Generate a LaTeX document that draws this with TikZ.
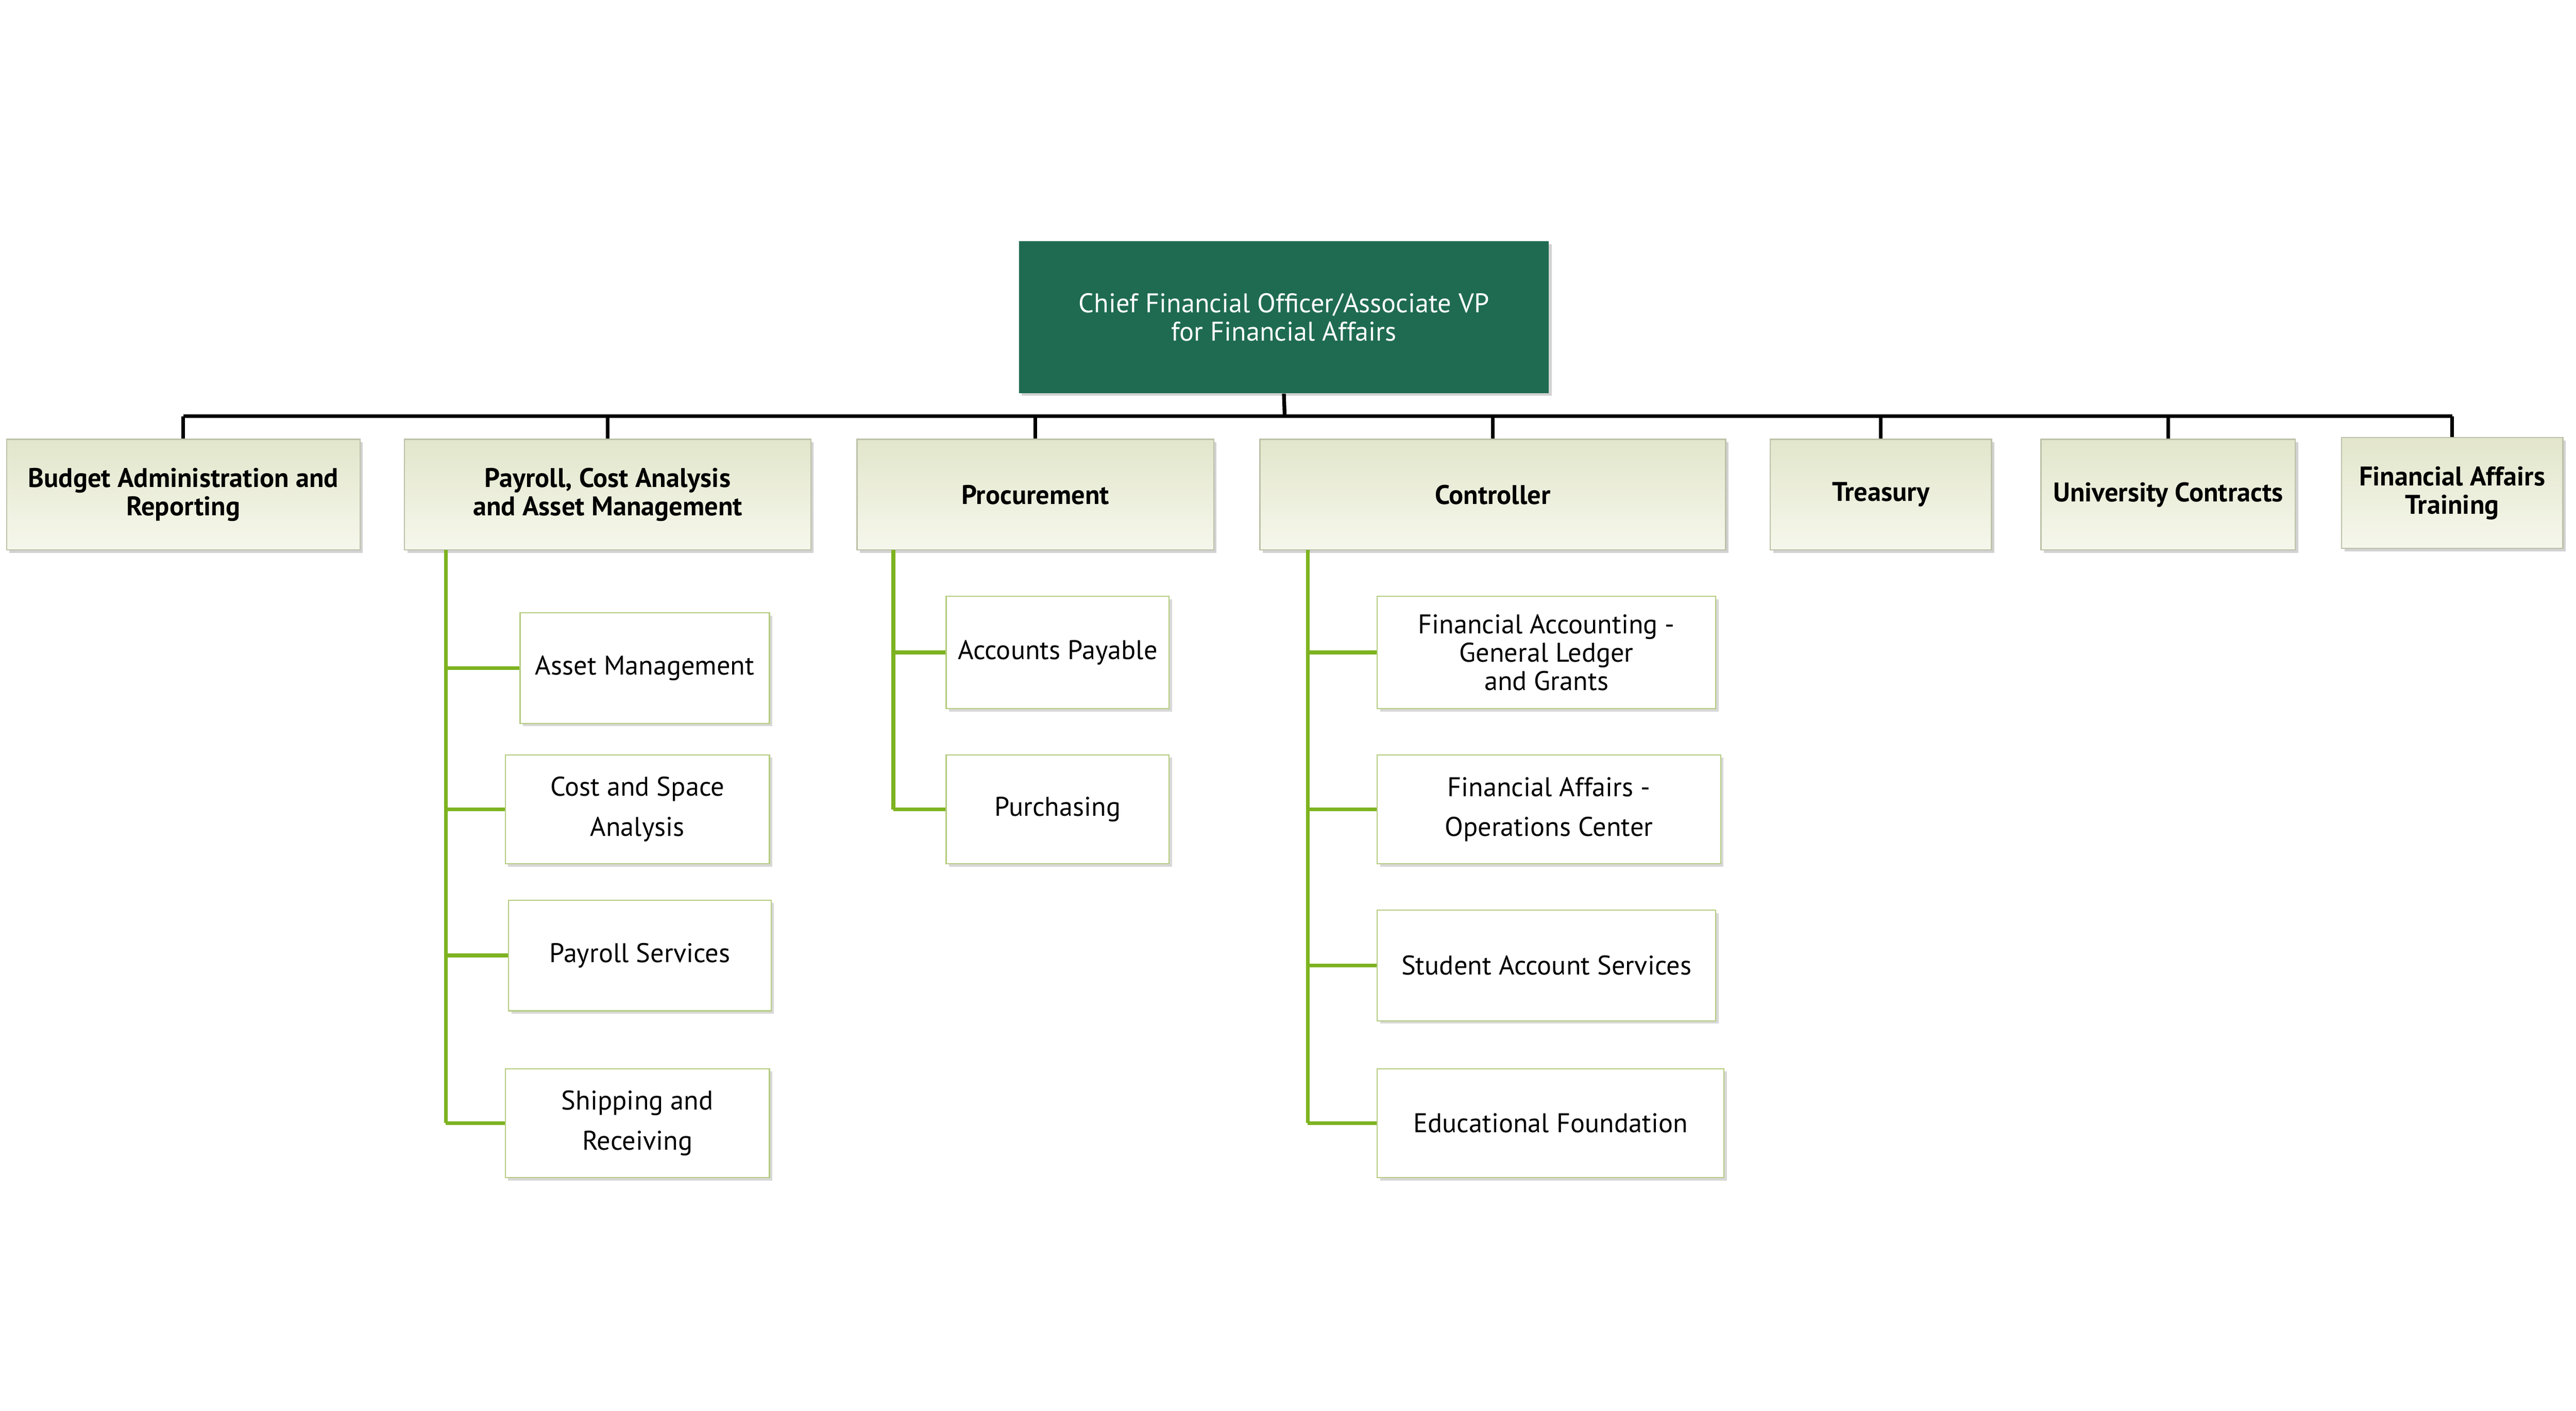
\documentclass[tikz,border=0pt]{standalone}
\usepackage{fontspec}
\setmainfont{PT Sans}
\usetikzlibrary{shadows}
\definecolor{topg}{HTML}{1F6B52}
\definecolor{lineg}{HTML}{7DB320}
\definecolor{lvtop}{HTML}{E2E6CB}
\definecolor{lvbot}{HTML}{F6F7EC}
\definecolor{lvdraw}{HTML}{BCC2A8}
\definecolor{chdraw}{HTML}{B5CC80}
\tikzset{
 x=0.02cm,y=-0.02cm,
 every node/.style={font=\fontsize{9.3pt}{9.8pt}\selectfont,align=center,inner sep=0pt},
 lvl/.style={draw=lvdraw,top color=lvtop,bottom color=lvbot,font=\fontsize{9.3pt}{9.8pt}\selectfont\bfseries,drop shadow={shadow xshift=1pt,shadow yshift=-1pt,fill=black!35}},
 ch/.style={draw=chdraw,fill=white,drop shadow={shadow xshift=1pt,shadow yshift=-1pt,fill=black!30}},
 bus/.style={draw=black,line width=1.3pt},
 gl/.style={draw=lineg,line width=1.3pt},
}
\newcommand{\bx}[6]{\node[#1,minimum width=(#4-#3)*0.02cm,minimum height=(#6-#5)*0.02cm] (#2) at ({(#3+#4)/2},{(#5+#6)/2})}
\begin{document}
\begin{tikzpicture}
\useasboundingbox (0,0) rectangle (1560,854);
\bx{fill=topg,text=white,drop shadow={shadow xshift=1pt,shadow yshift=-1pt,fill=black!35}}{cfo}{617}{938}{146}{238} {Chief Financial Officer/Associate VP\\for Financial Affairs};
\bx{lvl}{bud}{4}{218}{266}{333}{Budget Administration and\\Reporting};
\bx{lvl}{pay}{245}{491}{266}{333}{Payroll, Cost Analysis\\and Asset Management};
\bx{lvl}{pro}{519}{735}{266}{333}{Procurement};
\bx{lvl}{con}{763}{1045}{266}{333}{Controller};
\bx{lvl}{tre}{1072}{1206}{266}{333}{Treasury};
\bx{lvl}{uc}{1236}{1390}{266}{333}{University Contracts};
\bx{lvl}{fat}{1418}{1552}{265}{332}{Financial Affairs\\Training};
\coordinate (bus) at (778,252);
\draw[bus] (cfo.south) -- (bus);
\foreach \n in {bud,pay,pro,con,tre,uc,fat}{\draw[bus] (bus -| \n.north) -- (\n.north);}
\draw[bus] (bus -| bud.north) -- (bus -| fat.north);
\bx{ch}{am}{315}{466}{371}{438}{Asset Management};
\bx{ch}{cs}{306}{466}{457}{523}{Cost and Space\\[4pt]Analysis};
\bx{ch}{ps}{308}{467}{545}{612}{Payroll Services};
\bx{ch}{sr}{306}{466}{647}{713}{Shipping and\\[4pt]Receiving};
\coordinate (pt) at (270,333);
\draw[gl] (pt) -- (pt |- sr.west);
\foreach \n in {am,cs,ps,sr}{\draw[gl] (pt |- \n.west) -- (\n.west);}
\bx{ch}{ap}{573}{708}{361}{429}{Accounts Payable};
\bx{ch}{pu}{573}{708}{457}{523}{Purchasing};
\coordinate (prt) at (541,333);
\draw[gl] (prt) -- (prt |- pu.west);
\foreach \n in {ap,pu}{\draw[gl] (prt |- \n.west) -- (\n.west);}
\bx{ch}{gl}{834}{1039}{361}{429}{Financial Accounting -\\General Ledger\\and Grants};
\bx{ch}{oc}{834}{1042}{457}{523}{Financial Affairs -\\[4pt]Operations Center};
\bx{ch}{sa}{834}{1039}{551}{618}{Student Account Services};
\bx{ch}{ef}{834}{1044}{647}{713}{Educational Foundation};
\coordinate (ct) at (792,333);
\draw[gl] (ct) -- (ct |- ef.west);
\foreach \n in {gl,oc,sa,ef}{\draw[gl] (ct |- \n.west) -- (\n.west);}
\end{tikzpicture}
\end{document}
